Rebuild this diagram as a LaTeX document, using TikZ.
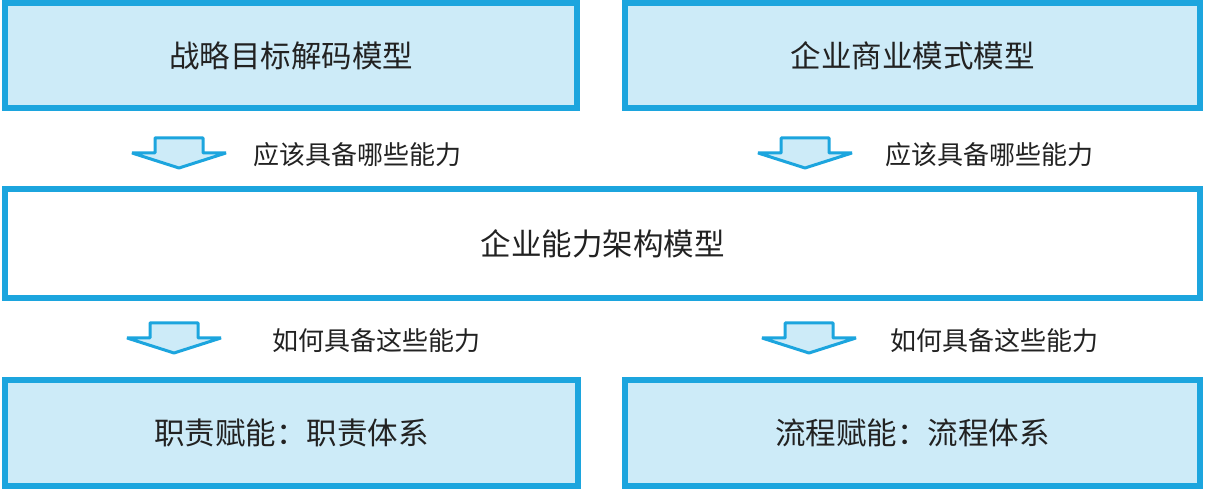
\documentclass[tikz,border=0pt]{standalone}
\usepackage{fontspec}
\newfontfamily\cjk{Noto Sans CJK SC}[Scale=1]
\definecolor{bordblue}{HTML}{1CA5DE}
\definecolor{fillblue}{HTML}{CDEBF8}
\definecolor{txt}{HTML}{222222}
\begin{document}
\begin{tikzpicture}[x=1pt,y=1pt,
  box/.style={draw=bordblue,line width=5.5pt,inner sep=0pt,text=txt,
    font=\cjk\fontsize{30.5}{35}\selectfont},
  bluebox/.style={box,fill=fillblue},
  lbl/.style={anchor=west,text=txt,inner sep=0pt,font=\cjk\fontsize{26}{30}\selectfont},
  arrowshape/.style={draw=bordblue,fill=fillblue,line width=3pt,line join=bevel},
  pics/downarrow/.style={code={
    \draw[arrowshape] (-24,15) -- (24,15) -- (24,0) -- (47,0) -- (0,-15) -- (-47,0) -- (-24,0) -- cycle;}}
]
\useasboundingbox (0,0) rectangle (1205,490);
\fill[white] (0,0) rectangle (1205,490);
% boxes
\node[bluebox,minimum width=572pt,minimum height=105pt] (tl) at (291,434.5) {战略目标解码模型};
\node[bluebox,minimum width=575pt,minimum height=105pt] (tr) at (912.5,434.5) {企业商业模式模型};
\node[box,fill=white,minimum width=1195pt,minimum height=109pt] (mid) at (602.5,246.5) {企业能力架构模型};
\node[bluebox,minimum width=573pt,minimum height=106pt] (bl) at (291.5,57) {职责赋能：职责体系};
\node[bluebox,minimum width=575pt,minimum height=106pt] (br) at (912.5,57) {流程赋能：流程体系};
% arrows
\coordinate (a1) at (179,337);
\coordinate (a2) at (805,337);
\coordinate (a3) at (174,152);
\coordinate (a4) at (809,152);
\pic at (a1) {downarrow};
\pic at (a2) {downarrow};
\pic at (a3) {downarrow};
\pic at (a4) {downarrow};
% labels
\node[lbl] (l1) at (253,335) {应该具备哪些能力};
\node[lbl] (l2) at (885,335) {应该具备哪些能力};
\node[lbl] (l3) at (272,149) {如何具备这些能力};
\node[lbl] (l4) at (890,149) {如何具备这些能力};
\end{tikzpicture}
\end{document}
